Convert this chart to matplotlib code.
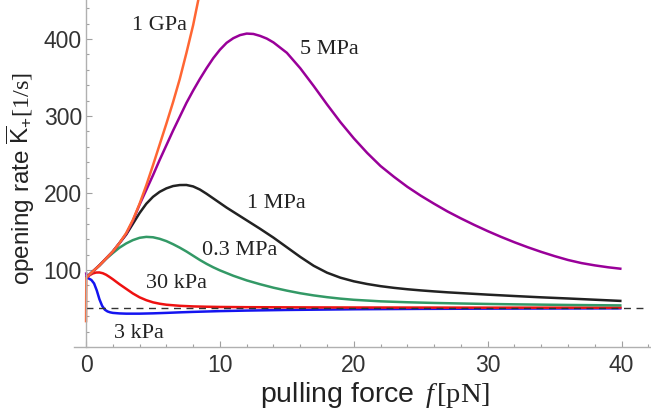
import matplotlib
matplotlib.use("Agg")
import matplotlib.pyplot as plt
from matplotlib.ticker import MultipleLocator

plt.rcParams['font.family'] = ['Liberation Sans', 'DejaVu Sans']
plt.rcParams['mathtext.fontset'] = 'custom'
plt.rcParams['mathtext.rm'] = 'Liberation Serif'
plt.rcParams['mathtext.it'] = 'Liberation Serif:italic'
plt.rcParams['mathtext.sf'] = 'Liberation Sans'
plt.rcParams['mathtext.bf'] = 'Liberation Serif:bold'

# ---- data ----
f_3kPa = [0, 0.2, 0.4, 0.6, 0.8, 1.0, 1.2, 1.4, 1.6, 1.8, 2.0, 2.5, 3, 4, 5, 6, 7, 8, 10, 12, 15, 20, 25, 30, 35, 40]
K_3kPa = [90, 89, 87, 82.5, 73.5, 62, 53.5, 48.5, 46.2, 45, 44.3, 43.6, 43.3, 43.3, 43.7, 44.3, 45, 45.6, 46.6,
          47.3, 48.1, 49, 49.5, 49.8, 50, 50.2]

f_30kPa = [0, 0.25, 0.5, 0.75, 1.0, 1.25, 1.5, 1.75, 2.0, 2.5, 3.0, 3.5, 4, 4.5, 5, 5.5, 6, 7, 8, 9, 10, 12, 15,
           20, 25, 30, 40]
K_30kPa = [90, 93, 95.5, 96.7, 96.8, 95.8, 93.8, 91, 88, 81.5, 75.5, 69.5, 64.5, 60.8, 58, 56.2, 54.9, 53.5, 52.7,
           52.3, 52, 51.7, 51.5, 51.3, 51.2, 51.1, 51.1]

f_03MPa = [0, 0.5, 1, 1.5, 2, 2.5, 3, 3.5, 4, 4.5, 5, 5.5, 6, 6.5, 7, 7.5, 8, 8.5, 9, 9.5, 10, 11, 12, 13, 14, 15,
           16, 17, 18, 19, 20, 22, 24, 26, 28, 30, 32, 34, 36, 38, 40]
K_03MPa = [90, 98, 106, 114.5, 122, 129, 134.5, 138.8, 141.8, 143, 142.5, 140.5, 137.5, 133.5, 129, 124, 118.5,
           113, 108, 103.5, 99.5, 92.5, 86.5, 81.5, 77, 73.2, 69.8, 67, 64.7, 62.8, 61.3, 59.3, 58.1, 57.2, 56.5,
           55.9, 55.4, 55, 54.6, 54.3, 54]

f_1MPa = [0, 0.5, 1, 1.5, 2, 2.5, 3, 3.5, 4, 4.5, 5, 5.5, 6, 6.5, 7, 7.5, 8, 8.5, 9, 9.5, 10, 10.5, 11, 11.5, 12,
          13, 14, 15, 16, 17, 18, 19, 20, 21, 22, 23, 24, 25, 26, 27, 28, 29, 30, 32, 34, 36, 38, 40]
K_1MPa = [90, 98, 106, 115, 124, 135, 146, 160, 174, 186, 195, 201.5, 206, 209, 210.3, 210.4, 208.5, 204.5, 199,
          193, 187, 181, 175.5, 170, 164.5, 153.5, 142, 129.5, 117, 105.5, 96.5, 90, 85.3, 81.8, 79, 76.8, 75,
          73.5, 72.2, 71, 70, 69, 68, 66.2, 64.5, 63, 61.4, 59.8]

f_5MPa = [0, 0.05, 0.5, 1, 1.5, 2, 2.5, 3, 3.5, 4, 4.5, 5, 5.5, 6, 6.5, 7, 7.5, 8, 8.5, 9, 9.5, 10, 10.5, 11,
          11.5, 12, 12.5, 13, 13.5, 14, 15, 16, 17, 18, 19, 20, 21, 22, 23, 24, 25, 26, 27, 28, 29, 30, 31, 32, 33,
          34, 35, 36, 37, 38, 39, 40]
K_5MPa = [97, 90, 98, 106, 115, 124, 135, 147, 164, 185, 204, 223, 243, 262, 281, 299, 317, 333, 348, 362, 375,
          386, 395, 401, 405, 407, 406.5, 404, 400.5, 395.5, 382, 362, 339, 315, 292, 271, 252, 235, 221, 208,
          196.5, 186, 176, 167, 158.5, 150.5, 143, 136, 129.5, 123.5, 118, 113, 109, 106, 103.5, 101.5]

f_1GPa = [0, 0.02, 0.5, 1.0, 1.5, 2.0, 2.5, 3.0, 3.5, 4.0, 4.5, 5.0, 5.5, 6.0, 6.5, 7.0, 7.5, 8.0, 8.4]
K_1GPa = [32, 90, 98, 106, 115, 124, 135, 148, 165, 186, 210, 236, 263, 290, 318, 348, 382, 418, 452]

K_asymptote = 51
f_asym = [0, 41.7]

labels = ["3 kPa", "30 kPa", "0.3 MPa", "1 MPa", "5 MPa", "1 GPa"]
x_ticks = [0, 10, 20, 30, 40]
y_ticks = [100, 200, 300, 400]

# ---- figure ----
W, H = 651, 412
fig = plt.figure(figsize=(W / 100, H / 100), dpi=100)
ax = fig.add_axes([74 / W, 1 - 347 / H, (W - 74) / W, 347 / H])
ax.patch.set_alpha(0)

lw = 1.8
kw = dict(lw=lw, solid_joinstyle='round', solid_capstyle='butt')
ax.plot(f_3kPa, K_3kPa, color='#1414F0', **kw)
ax.plot(f_30kPa, K_30kPa, color='#EE1111', **kw)
ax.plot(f_03MPa, K_03MPa, color='#339966', **kw)
ax.plot(f_1MPa, K_1MPa, color='#222222', **kw)
ax.plot(f_5MPa, K_5MPa, color='#990099', **kw)
ax.plot(f_1GPa, K_1GPa, color='#FF6633', **kw)
ax.plot(f_asym, [K_asymptote, K_asymptote], color='#333333', lw=1.0, dashes=(5, 4))

ax.set_xlim(-0.9, 42.2)
ax.set_ylim(0, 450.6)

for s in ['top', 'right']:
    ax.spines[s].set_visible(False)
ax.spines['left'].set_position(('data', 0))
for s in ['left', 'bottom']:
    ax.spines[s].set_color('#b0b0b0')
    ax.spines[s].set_linewidth(1.0)

ax.set_xticks(x_ticks)
ax.xaxis.set_minor_locator(MultipleLocator(2))
ax.set_yticks(y_ticks)
ax.yaxis.set_minor_locator(MultipleLocator(20))
ax.tick_params(which='both', direction='in', color='#a0a0a0', width=0.8, labelcolor='#333333', labelsize=16.5)
ax.tick_params(which='major', length=4.5)
ax.tick_params(which='minor', length=2.5)
ax.tick_params(axis='x', pad=5)
ax.tick_params(axis='y', pad=3)

# curve labels
def ftext(px, py, s):
    fig.text(px / W, 1 - py / H, s, ha='center', va='center', fontsize=16,
             family='Liberation Serif', color='#222222')

ftext(159, 25, labels[5])
ftext(329, 50, labels[4])
ftext(276.5, 203, labels[3])
ftext(240, 251, labels[2])
ftext(176, 283, labels[1])
ftext(139, 333, labels[0])

fig.text(260 / W, 1 - 395 / H, r"pulling force $\,\mathit{f}\,\mathrm{[pN]}$", ha='left', va='center',
         fontsize=20.5, color='#222222')
fig.text(21 / W, 1 - 178 / H, r"opening rate $\overline{\mathsf{K}}_{\mathsf{+}}\mathrm{[1/s]}$",
         rotation=90, ha='center', va='center', fontsize=17.5, color='#222222')

fig.savefig("out.png", dpi=100)
